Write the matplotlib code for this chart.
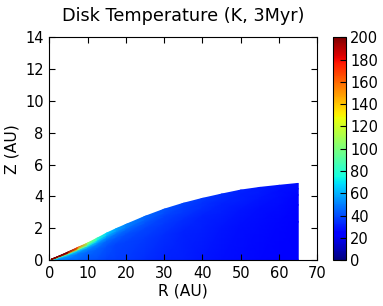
import numpy as np
import matplotlib
matplotlib.use("Agg")
import matplotlib.pyplot as plt

# Radial sample points (AU) and disk surface height (AU)
r_au = [0.5, 2.5, 5, 7.5, 10, 12.5, 15, 17.5, 20, 25, 30, 35, 40, 45, 50, 55, 60, 65]
z_surf = [0.05, 0.25, 0.52, 0.8, 1.07, 1.38, 1.7, 1.98, 2.24, 2.75, 3.2, 3.57, 3.88, 4.15, 4.4, 4.57, 4.7, 4.82]

# Fraction of the local surface height at which temperatures are sampled
z_frac = [0.0, 0.5, 0.72, 0.85, 0.93, 1.0]

# Temperature (K) at each radius (rows) and height fraction (columns)
temp_k = [
    [60, 80, 140, 220, 250, 260],
    [50, 60, 95, 190, 250, 260],
    [46, 54, 78, 160, 230, 250],
    [44, 49, 64, 110, 150, 170],
    [42, 46, 56, 80, 100, 112],
    [40, 44, 51, 64, 77, 86],
    [38, 41, 46, 54, 62, 68],
    [37, 39, 43, 49, 55, 58],
    [36, 38, 41, 46, 50, 52],
    [34, 36, 39, 42, 44, 46],
    [32, 34, 36, 38, 40, 42],
    [31, 32, 34, 36, 37, 39],
    [29, 31, 32, 34, 35, 36],
    [28, 29, 31, 32, 33, 34],
    [27, 28, 29, 31, 31, 32],
    [26, 27, 28, 29, 30, 30],
    [25, 26, 27, 28, 28, 29],
    [23, 24, 25, 26, 27, 28],
]

x_ticks = [0, 10, 20, 30, 40, 50, 60, 70]
y_ticks = [0, 2, 4, 6, 8, 10, 12, 14]
cb_ticks = [0, 20, 40, 60, 80, 100, 120, 140, 160, 180, 200]

R = np.array(r_au)[:, None] * np.ones(len(z_frac))[None, :]
Z = np.array(z_surf)[:, None] * np.array(z_frac)[None, :]
T = np.array(temp_k, dtype=float)

fig = plt.figure(figsize=(3.83, 3.06), dpi=100)
ax = fig.add_axes([0.1287, 0.150, 0.700, 0.728])
cax = fig.add_axes([0.870, 0.150, 0.0334, 0.728])

mesh = ax.pcolormesh(R, Z, T, cmap="jet", vmin=0, vmax=200, shading="gouraud")
ax.set_xlim(0, 70)
ax.set_ylim(0, 14)
ax.set_xticks(x_ticks)
ax.set_yticks(y_ticks)
ax.tick_params(direction="in", top=True, right=True, length=4, labelsize=10.5, pad=4)
ax.set_xlabel("R (AU)", fontsize=11.2, labelpad=2)
ax.set_ylabel("Z (AU)", fontsize=11.2, labelpad=4)
ax.set_title("Disk Temperature (K, 3Myr)", fontsize=12.7, pad=12)

cb = fig.colorbar(mesh, cax=cax, ticks=cb_ticks)
cb.ax.tick_params(direction="in", length=4, labelsize=10.5, pad=3)
cb.outline.set_linewidth(0.8)

fig.savefig("out.png", dpi=100)
